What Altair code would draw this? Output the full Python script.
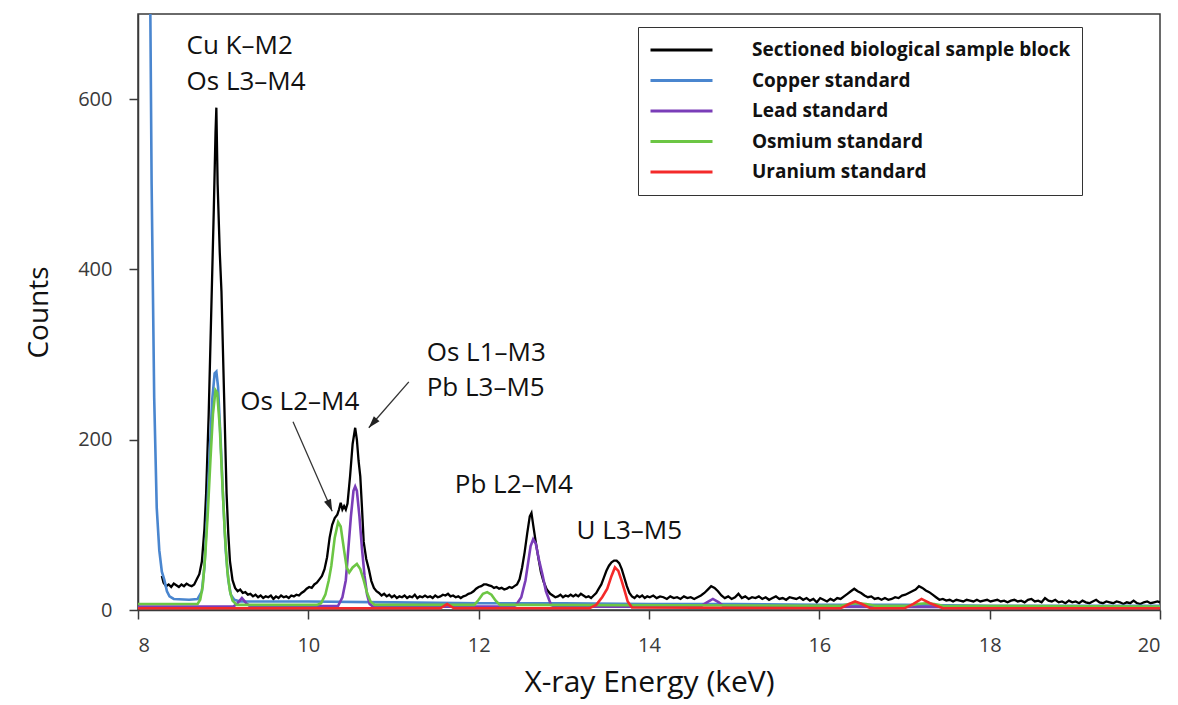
import altair as alt
import pandas as pd

SERIES = ["Sectioned biological sample block", "Copper standard", "Lead standard",
          "Osmium standard", "Uranium standard"]
COLORS = ["#000000", "#4a86cf", "#7a3db8", "#6cc644", "#f42a2a"]

# (energy keV, counts)
SAMPLE = [
    (8.28, 40), (8.30, 32), (8.33, 28), (8.36, 30), (8.39, 27), (8.42, 31), (8.45, 29),
    (8.48, 27), (8.51, 30), (8.54, 28), (8.57, 31), (8.60, 29), (8.63, 28), (8.66, 30),
    (8.69, 36), (8.72, 42), (8.75, 57), (8.78, 95), (8.80, 137), (8.83, 230), (8.86, 350),
    (8.89, 470), (8.91, 560), (8.92, 590), (8.935, 500), (8.96, 420), (8.98, 374),
    (9.01, 255), (9.04, 137), (9.06, 90), (9.08, 57), (9.11, 35), (9.14, 26), (9.17, 22),
    (9.20, 24), (9.23, 20), (9.26, 21), (9.29, 18), (9.32, 19), (9.35, 16), (9.38, 18),
    (9.41, 15), (9.44, 17), (9.47, 14), (9.50, 16), (9.53, 15), (9.56, 17), (9.59, 13),
    (9.62, 16), (9.65, 14), (9.68, 17), (9.71, 15), (9.74, 16), (9.77, 14), (9.80, 17),
    (9.83, 16), (9.86, 18), (9.89, 17), (9.92, 20), (9.95, 22), (9.98, 25), (10.01, 27),
    (10.04, 26), (10.07, 30), (10.10, 32), (10.13, 36), (10.16, 40), (10.19, 48),
    (10.22, 62), (10.25, 85), (10.28, 100), (10.31, 108), (10.34, 112), (10.36, 118),
    (10.38, 126), (10.40, 118), (10.42, 122), (10.44, 118), (10.46, 125), (10.49, 157),
    (10.52, 195), (10.55, 214), (10.57, 200), (10.59, 175), (10.61, 157), (10.63, 120),
    (10.65, 80), (10.68, 60), (10.71, 48), (10.74, 34), (10.77, 26), (10.80, 22),
    (10.83, 20), (10.86, 17), (10.89, 19), (10.92, 16), (10.95, 18), (10.98, 15),
    (11.01, 17), (11.04, 14), (11.07, 16), (11.10, 15), (11.13, 17), (11.16, 14),
    (11.19, 16), (11.22, 15), (11.25, 18), (11.28, 14), (11.31, 16), (11.34, 15),
    (11.37, 17), (11.40, 15), (11.43, 16), (11.46, 14), (11.49, 17), (11.52, 15),
    (11.55, 16), (11.58, 18), (11.61, 17), (11.64, 19), (11.67, 16), (11.70, 17),
    (11.73, 15), (11.76, 16), (11.79, 14), (11.82, 16), (11.85, 17), (11.88, 19),
    (11.91, 20), (11.94, 22), (11.97, 25), (12.00, 27), (12.03, 28), (12.06, 30),
    (12.09, 30), (12.12, 29), (12.15, 28), (12.18, 26), (12.21, 27), (12.24, 25),
    (12.27, 26), (12.30, 24), (12.33, 25), (12.36, 27), (12.39, 26), (12.42, 28),
    (12.45, 30), (12.48, 36), (12.51, 50), (12.54, 68), (12.57, 90), (12.60, 110),
    (12.62, 114), (12.64, 100), (12.67, 80), (12.70, 62), (12.73, 45), (12.76, 34),
    (12.80, 24), (12.84, 19), (12.87, 17), (12.90, 15), (12.93, 16), (12.96, 18),
    (12.99, 15), (13.02, 17), (13.05, 16), (13.08, 18), (13.11, 16), (13.14, 18),
    (13.17, 16), (13.20, 19), (13.23, 17), (13.26, 15), (13.29, 16), (13.32, 14),
    (13.35, 17), (13.38, 20), (13.41, 25), (13.44, 30), (13.47, 38), (13.50, 46),
    (13.53, 52), (13.56, 56), (13.59, 58), (13.62, 58), (13.65, 55), (13.68, 48),
    (13.71, 38), (13.74, 28), (13.77, 20), (13.80, 16), (13.83, 14), (13.86, 17),
    (13.89, 15), (13.92, 17), (13.95, 14), (13.98, 16), (14.01, 15), (14.05, 17),
    (14.09, 14), (14.13, 16), (14.17, 15), (14.21, 13), (14.25, 16), (14.29, 14),
    (14.33, 15), (14.37, 13), (14.41, 16), (14.45, 14), (14.49, 15), (14.53, 13),
    (14.57, 15), (14.61, 17), (14.65, 20), (14.69, 24), (14.73, 28), (14.77, 26),
    (14.81, 22), (14.85, 17), (14.89, 14), (14.93, 16), (14.97, 13), (15.01, 15),
    (15.05, 19), (15.09, 14), (15.13, 16), (15.17, 13), (15.21, 15), (15.25, 14),
    (15.29, 16), (15.33, 13), (15.37, 15), (15.41, 12), (15.45, 14), (15.49, 16),
    (15.53, 13), (15.57, 14), (15.61, 12), (15.65, 15), (15.69, 14), (15.73, 13),
    (15.77, 15), (15.81, 12), (15.85, 14), (15.89, 11), (15.93, 13), (15.97, 9),
    (16.01, 14), (16.05, 12), (16.09, 10), (16.13, 13), (16.17, 11), (16.21, 14),
    (16.25, 13), (16.29, 16), (16.33, 19), (16.37, 22), (16.41, 25), (16.45, 22),
    (16.49, 20), (16.53, 17), (16.57, 15), (16.61, 16), (16.65, 13), (16.69, 14),
    (16.73, 12), (16.77, 14), (16.81, 12), (16.85, 13), (16.89, 15), (16.93, 14),
    (16.97, 17), (17.01, 18), (17.05, 20), (17.09, 22), (17.13, 24), (17.17, 28),
    (17.21, 26), (17.25, 23), (17.29, 21), (17.33, 18), (17.37, 15), (17.41, 12),
    (17.45, 13), (17.49, 11), (17.53, 12), (17.57, 10), (17.61, 12), (17.65, 11),
    (17.69, 10), (17.73, 12), (17.77, 11), (17.81, 10), (17.85, 12), (17.89, 10),
    (17.93, 11), (17.97, 12), (18.01, 10), (18.05, 11), (18.09, 12), (18.13, 10),
    (18.17, 11), (18.21, 9), (18.25, 11), (18.29, 12), (18.33, 10), (18.37, 11),
    (18.41, 9), (18.45, 12), (18.49, 13), (18.53, 10), (18.57, 11), (18.61, 9),
    (18.65, 14), (18.69, 11), (18.73, 10), (18.77, 12), (18.81, 9), (18.85, 10),
    (18.89, 8), (18.93, 11), (18.97, 9), (19.01, 10), (19.05, 8), (19.09, 11),
    (19.13, 9), (19.17, 8), (19.21, 10), (19.25, 12), (19.29, 9), (19.33, 8),
    (19.37, 10), (19.41, 9), (19.45, 8), (19.49, 10), (19.53, 9), (19.57, 7),
    (19.61, 9), (19.65, 8), (19.69, 11), (19.73, 8), (19.77, 7), (19.81, 9),
    (19.85, 10), (19.89, 8), (19.93, 9), (19.97, 10), (20.00, 9),
]

COPPER = [
    (8.00, 3000), (8.08, 1800), (8.13, 900), (8.16, 500), (8.19, 250), (8.22, 120),
    (8.25, 70), (8.28, 45), (8.31, 35), (8.34, 22), (8.37, 16), (8.42, 13), (8.60, 12),
    (8.70, 13), (8.75, 22), (8.78, 50), (8.81, 110), (8.84, 180), (8.87, 245),
    (8.90, 278), (8.92, 280), (8.94, 262), (8.97, 200), (9.00, 130), (9.03, 70),
    (9.06, 35), (9.09, 18), (9.13, 12), (9.20, 10), (10.0, 10), (11.0, 9), (12.0, 8),
    (13.0, 8), (14.0, 7), (15.0, 7), (16.0, 6), (17.0, 6), (18.0, 5), (19.0, 5), (20.0, 5),
]

LEAD = [
    (8.00, 4), (9.12, 4), (9.17, 8), (9.22, 14), (9.27, 8), (9.32, 4), (10.35, 5),
    (10.40, 15), (10.44, 35), (10.47, 72), (10.50, 110), (10.53, 140), (10.55, 145),
    (10.57, 140), (10.60, 110), (10.63, 72), (10.66, 40), (10.69, 18), (10.72, 7),
    (10.76, 4), (12.40, 4), (12.44, 6), (12.50, 15), (12.55, 35), (12.58, 55),
    (12.61, 75), (12.64, 83), (12.67, 78), (12.71, 58), (12.75, 41), (12.79, 22),
    (12.85, 6), (12.90, 4), (14.60, 4), (14.68, 9), (14.75, 13), (14.82, 9), (14.88, 4),
    (20.00, 3),
]

OSMIUM = [
    (8.00, 7), (8.70, 7), (8.73, 12), (8.76, 28), (8.79, 65), (8.82, 115), (8.85, 175),
    (8.88, 230), (8.91, 258), (8.93, 255), (8.96, 215), (8.99, 150), (9.02, 90),
    (9.05, 45), (9.08, 22), (9.11, 11), (9.16, 6), (10.10, 6), (10.15, 8), (10.20, 18),
    (10.24, 35), (10.27, 52), (10.31, 85), (10.35, 103), (10.38, 98), (10.42, 70),
    (10.45, 50), (10.48, 44), (10.52, 50), (10.57, 54), (10.61, 48), (10.65, 35),
    (10.69, 20), (10.73, 10), (10.78, 6), (11.95, 6), (12.00, 12), (12.05, 19),
    (12.10, 21), (12.15, 18), (12.20, 11), (12.25, 6), (16.25, 5), (16.35, 7),
    (16.45, 8), (16.55, 7), (16.65, 5), (17.05, 5), (17.15, 7), (17.25, 8), (17.35, 7),
    (17.45, 5), (20.00, 4),
]

URANIUM = [
    (8.00, 2), (11.55, 2), (11.63, 7), (11.71, 2), (13.30, 2), (13.38, 6), (13.45, 15),
    (13.51, 25), (13.56, 40), (13.60, 50), (13.64, 46), (13.68, 34), (13.71, 24),
    (13.75, 10), (13.80, 3), (16.25, 2), (16.35, 7), (16.42, 10), (16.50, 7), (16.60, 2),
    (17.00, 2), (17.10, 7), (17.20, 13), (17.30, 8), (17.45, 2), (20.00, 2),
]

LABELS = ["Cu K\u2013M2", "Os L3\u2013M4", "Os L2\u2013M4", "Os L1\u2013M3",
          "Pb L3\u2013M5", "Pb L2\u2013M4", "U L3\u2013M5"]
LABEL_E = [8.57, 8.57, 9.20, 11.39, 11.39, 11.72, 13.15]
LABEL_C = [662, 620, 244, 302, 261, 147, 93]

ARROW_E_FROM = [9.82, 11.18]
ARROW_C_FROM = [221, 268]
ARROW_E_TO = [10.28, 10.71]
ARROW_C_TO = [116, 214]
ARROW_ANGLE = [157, 221]

X_TICKS = [8, 10, 12, 14, 16, 18, 20]
Y_TICKS = [0, 200, 400, 600]

FONT = "Open Sans"

color_scale = alt.Scale(domain=SERIES, range=COLORS)
legend = alt.Legend(
    title=None, orient="none", legendX=500, legendY=13,
    symbolType="stroke", symbolSize=3844, symbolStrokeWidth=3, clipHeight=24,
    rowPadding=6.5, padding=11, labelOffset=38, labelFont=FONT, labelFontSize=19,
    labelFontWeight="bold", labelColor="#111111", labelLimit=600,
    strokeColor="#333333", fillColor="white",
)

x_enc = alt.X("E:Q", scale=alt.Scale(domain=[8, 20], nice=False, zero=False),
              axis=alt.Axis(values=X_TICKS, title="X-ray Energy (keV)", format="d"))
y_enc = alt.Y("C:Q", scale=alt.Scale(domain=[0, 700], nice=False),
              axis=alt.Axis(values=Y_TICKS, title="Counts", format="d"))


def series_layer(points, name, width):
    df = pd.DataFrame(points, columns=["E", "C"])
    df["series"] = name
    return alt.Chart(df).mark_line(clip=True, strokeWidth=width).encode(
        x=x_enc, y=y_enc,
        color=alt.Color("series:N", scale=color_scale, legend=legend),
    )


layers = [
    series_layer(SAMPLE, SERIES[0], 2.3),
    series_layer(COPPER, SERIES[1], 2.6),
    series_layer(LEAD, SERIES[2], 2.6),
    series_layer(OSMIUM, SERIES[3], 2.6),
    series_layer(URANIUM, SERIES[4], 2.6),
]

label_df = pd.DataFrame({"E": LABEL_E, "C": LABEL_C, "text": LABELS})
labels = alt.Chart(label_df).mark_text(
    align="left", baseline="middle", font=FONT, fontSize=26, color="#111111"
).encode(x=x_enc, y=y_enc, text="text:N")

arrow_df = pd.DataFrame({"E": ARROW_E_FROM, "C": ARROW_C_FROM,
                         "E2": ARROW_E_TO, "C2": ARROW_C_TO})
arrow_lines = alt.Chart(arrow_df).mark_rule(color="#333333", strokeWidth=1.3).encode(
    x=x_enc, y=y_enc, x2="E2:Q", y2="C2:Q")

head_df = pd.DataFrame({"E": ARROW_E_TO, "C": ARROW_C_TO, "angle": ARROW_ANGLE})
arrow_heads = alt.Chart(head_df).mark_point(
    shape="M0,0L-0.75,2.4L0.75,2.4Z", filled=True, size=100, color="#222222", opacity=1
).encode(x=x_enc, y=y_enc, angle=alt.Angle("angle:Q", scale=None))

chart = alt.layer(*layers, arrow_lines, arrow_heads, labels).properties(
    width=1022, height=596,
    autosize=alt.AutoSizeParams(type="none"),
    padding={"left": 130, "top": 6, "right": 10, "bottom": 93},
).configure_view(
    stroke="#3a3a3a", strokeWidth=1.5
).configure_axis(
    grid=False, domainColor="#3a3a3a", domainWidth=1.5, tickColor="#3a3a3a",
    tickWidth=1.5, tickSize=9, labelFont=FONT, labelFontSize=20, labelColor="#3a3a3a",
    titleFont=FONT, titleFontWeight="normal", titleColor="#111111",
).configure_axisY(
    labelPadding=17, titlePadding=24, titleFontSize=28
).configure_axisX(
    labelPadding=16, titlePadding=12, titleFontSize=30
)

chart.save("out.html", embed_options={"renderer": "svg", "actions": False})
